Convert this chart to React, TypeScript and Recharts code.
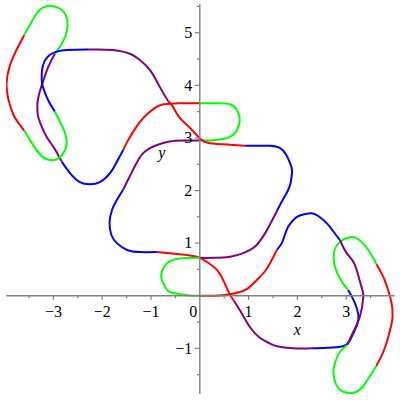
import { LineChart, Line, XAxis, YAxis, ReferenceLine, ReferenceDot } from 'recharts';

// one closed curve, split into coloured pieces (in traversal order)
const topLoop = [[-3.60, 4.96], [-3.48, 5.15], [-3.34, 5.37], [-3.21, 5.48], [-3.04, 5.51], [-2.87, 5.46], [-2.75, 5.34], [-2.71, 5.15], [-2.76, 4.92], [-2.87, 4.73], [-2.97, 4.60]];
const leftDrop = [[-2.97, 4.60], [-3.06, 4.44], [-3.14, 4.27], [-3.21, 4.08], [-3.27, 3.91], [-3.32, 3.72], [-3.33, 3.59], [-3.32, 3.44], [-3.27, 3.28], [-3.14, 3.02], [-3.00, 2.83], [-2.90, 2.67], [-2.83, 2.55]];
const leftBowl = [[-2.83, 2.55], [-2.66, 2.33], [-2.46, 2.16], [-2.25, 2.12], [-2.05, 2.16], [-1.84, 2.33], [-1.68, 2.58], [-1.57, 2.77]];
const upperRise = [[-1.57, 2.77], [-1.49, 2.92], [-1.37, 3.11], [-1.23, 3.30], [-1.08, 3.45], [-0.92, 3.57], [-0.75, 3.64], [-0.41, 3.66], [0, 3.66]];
const smallTopLoop = [[0, 3.66], [0.35, 3.66], [0.62, 3.64], [0.76, 3.53], [0.82, 3.34], [0.76, 3.15], [0.62, 3.02], [0.31, 2.96], [0, 2.95]];
const upperShelf = [[0, 2.95], [-0.34, 2.95], [-0.62, 2.93], [-0.89, 2.86], [-1.03, 2.80], [-1.17, 2.70], [-1.31, 2.50], [-1.43, 2.28], [-1.57, 2.02]];
const leftCup = [[-1.57, 2.02], [-1.70, 1.82], [-1.80, 1.63], [-1.85, 1.38], [-1.81, 1.15], [-1.70, 1.00], [-1.49, 0.87], [-1.23, 0.83], [-0.88, 0.83]];
const midFall = [[-0.88, 0.83], [-0.41, 0.79], [-0.06, 0.74], [0.15, 0.64], [0.35, 0.49], [0.50, 0.26], [0.60, 0.05], [0.70, -0.10]];
const lowerSlide = [[0.70, -0.10], [0.87, -0.35], [1.03, -0.60], [1.23, -0.80], [1.44, -0.91], [1.58, -0.96], [1.91, -1.00], [2.30, -1.00]];
const lowerHook = [[2.30, -1.00], [2.61, -0.99], [2.93, -0.96], [3.08, -0.84], [3.22, -0.56], [3.25, -0.37], [3.18, -0.14], [3.04, 0.11]];
const rightLoop = [[3.04, 0.11], [2.93, 0.24], [2.81, 0.45], [2.75, 0.64], [2.75, 0.83], [2.81, 0.96], [2.93, 1.06], [3.08, 1.11], [3.20, 1.10], [3.34, 1.00], [3.47, 0.85], [3.56, 0.71], [3.62, 0.60]];
const rightArc = [[3.62, 0.60], [3.76, 0.36], [3.86, 0.11], [3.93, -0.14], [3.95, -0.40], [3.90, -0.65], [3.80, -0.97], [3.70, -1.19], [3.62, -1.33]];
const bottomLoop = [[3.62, -1.33], [3.54, -1.45], [3.45, -1.58], [3.34, -1.73], [3.20, -1.83], [3.04, -1.85], [2.89, -1.80], [2.79, -1.68], [2.74, -1.49], [2.77, -1.28], [2.87, -1.07], [3.02, -0.94]];
const rightClimb = [[3.02, -0.94], [3.15, -0.68], [3.28, -0.40], [3.35, -0.03], [3.32, 0.15], [3.25, 0.38], [3.15, 0.64], [3.01, 0.81], [2.87, 1.06]];
const rightBowl = [[2.87, 1.06], [2.73, 1.23], [2.60, 1.38], [2.42, 1.52], [2.29, 1.57], [2.14, 1.55], [1.99, 1.50], [1.88, 1.40], [1.81, 1.31], [1.74, 1.15], [1.68, 1.00], [1.58, 0.87]];
const lowerFall = [[1.58, 0.87], [1.52, 0.76], [1.44, 0.62], [1.34, 0.47], [1.17, 0.30], [0.97, 0.13], [0.78, 0.06], [0.62, 0.03], [0.31, 0.00], [0, 0]];
const smallBottomLoop = [[0, 0], [-0.26, 0.01], [-0.61, 0.07], [-0.71, 0.17], [-0.78, 0.30], [-0.78, 0.45], [-0.69, 0.60], [-0.47, 0.70], [0, 0.72]];
const lowerShelf = [[0, 0.72], [0.27, 0.72], [0.62, 0.74], [0.89, 0.81], [1.03, 0.87], [1.17, 0.97], [1.34, 1.19], [1.47, 1.41], [1.58, 1.61]];
const rightCup = [[1.58, 1.61], [1.64, 1.72], [1.73, 1.87], [1.81, 2.01], [1.86, 2.14], [1.88, 2.26], [1.89, 2.39], [1.85, 2.52], [1.77, 2.68], [1.64, 2.81], [1.44, 2.85], [1.23, 2.85], [0.93, 2.85]];
const midRise = [[0.93, 2.85], [0.62, 2.87], [0.21, 2.90], [0, 2.99], [-0.20, 3.19], [-0.41, 3.38], [-0.55, 3.59], [-0.65, 3.70]];
const upperSlide = [[-0.65, 3.70], [-0.82, 3.97], [-1.02, 4.29], [-1.23, 4.48], [-1.41, 4.59], [-1.78, 4.67], [-2.29, 4.68]];
const upperHook = [[-2.29, 4.68], [-2.72, 4.67], [-2.93, 4.64], [-3.07, 4.58], [-3.21, 4.39], [-3.24, 4.10], [-3.21, 3.95], [-3.11, 3.72], [-2.97, 3.50]];
const leftLoop = [[-2.97, 3.50], [-2.80, 3.18], [-2.73, 2.96], [-2.76, 2.77], [-2.90, 2.61], [-3.07, 2.58], [-3.27, 2.68], [-3.48, 2.96], [-3.60, 3.14]];
const leftArc = [[-3.60, 3.14], [-3.72, 3.29], [-3.82, 3.44], [-3.92, 3.72], [-3.96, 4.04], [-3.90, 4.35], [-3.79, 4.61], [-3.65, 4.86], [-3.60, 4.96]];

const xMajor = [-3, -2, -1, 1, 2, 3];
const xMinor = [-3.5, -2.5, -1.5, -0.5, 0.5, 1.5, 2.5, 3.5];
const yMajor = [-1, 1, 2, 3, 4, 5];
const yMinor = [-1.5, -0.5, 0.5, 1.5, 2.5, 3.5, 4.5, 5.5];

const RED = '#ff0000';
const GREEN = '#00ff00';
const BLUE = '#0000ff';
const PURPLE = '#800080';
const AXIS = '#808080';
const FONT = 'Liberation Serif, Times New Roman, serif';

const pieces: [number[][], string][] = [
    [topLoop, GREEN], [leftDrop, PURPLE], [leftBowl, BLUE], [upperRise, RED],
    [smallTopLoop, GREEN], [upperShelf, PURPLE], [leftCup, BLUE], [midFall, RED],
    [lowerSlide, PURPLE], [lowerHook, BLUE], [rightLoop, GREEN], [rightArc, RED],
    [bottomLoop, GREEN], [rightClimb, PURPLE], [rightBowl, BLUE], [lowerFall, RED],
    [smallBottomLoop, GREEN], [lowerShelf, PURPLE], [rightCup, BLUE], [midRise, RED],
    [upperSlide, PURPLE], [upperHook, BLUE], [leftLoop, GREEN], [leftArc, RED],
];

const fmt = (v: number) => (v < 0 ? '\u2212' + Math.abs(v) : String(v));

const xTick = (len: number, label?: string) => (p: any) => (
    <g>
        <line x1={p.cx} y1={p.cy} x2={p.cx} y2={p.cy + len} stroke={AXIS} strokeWidth={1.2} />
        {label && <text x={p.cx} y={p.cy + 21.6} textAnchor="middle" fontFamily={FONT} fontSize={16} fill="#000">{label}</text>}
    </g>
);

const yTick = (len: number, label?: string) => (p: any) => (
    <g>
        <line x1={p.cx} y1={p.cy} x2={p.cx - len} y2={p.cy} stroke={AXIS} strokeWidth={1.2} />
        {label && <text x={p.cx - 7.5} y={p.cy + 5.3} textAnchor="end" fontFamily={FONT} fontSize={16} fill="#000">{label}</text>}
    </g>
);

const textAt = (txt: string, dx: number, dy: number, italic = false) => (p: any) => (
    <text x={p.cx + dx} y={p.cy + dy} textAnchor="middle" fontFamily={FONT} fontSize={16} fontStyle={italic ? 'italic' : 'normal'} fill="#000">{txt}</text>
);

export default function App() {
    return (
        <div style={{ width: 400, height: 400, background: '#fff' }}>
            <style>{'body{margin:0}'}</style>
            <LineChart width={400} height={400} margin={{ top: 4.3, right: 5.5, bottom: 5.9, left: 6.1 }}>
                <XAxis type="number" dataKey="x" domain={[-3.97, 3.99]} allowDataOverflow hide />
                <YAxis type="number" dataKey="y" domain={[-1.87, 5.54]} allowDataOverflow hide />
                {pieces.map(([pts, color], i) => (
                    <Line
                        key={i}
                        data={pts.map(([x, y]) => ({ x, y }))}
                        dataKey="y"
                        type="natural"
                        stroke={color}
                        strokeWidth={2}
                        dot={false}
                        activeDot={false}
                        isAnimationActive={false}
                    />
                ))}
                <ReferenceLine x={0} stroke={AXIS} strokeWidth={1.4} />
                <ReferenceLine y={0} stroke={AXIS} strokeWidth={1.4} />
                {xMajor.map((v) => <ReferenceDot key={'xM' + v} x={v} y={0} r={0} shape={xTick(4, fmt(v))} />)}
                {xMinor.map((v) => <ReferenceDot key={'xm' + v} x={v} y={0} r={0} shape={xTick(2.5)} />)}
                {yMajor.map((v) => <ReferenceDot key={'yM' + v} x={0} y={v} r={0} shape={yTick(5, fmt(v))} />)}
                {yMinor.map((v) => <ReferenceDot key={'ym' + v} x={0} y={v} r={0} shape={yTick(3)} />)}
                <ReferenceDot x={0} y={0} r={0} shape={textAt('0', -6.5, 21.6)} />
                <ReferenceDot x={2} y={0} r={0} shape={textAt('x', 0, 39.5, true)} />
                <ReferenceDot x={0} y={2.7} r={0} shape={textAt('y', -38, 4, true)} />
            </LineChart>
        </div>
    );
}
